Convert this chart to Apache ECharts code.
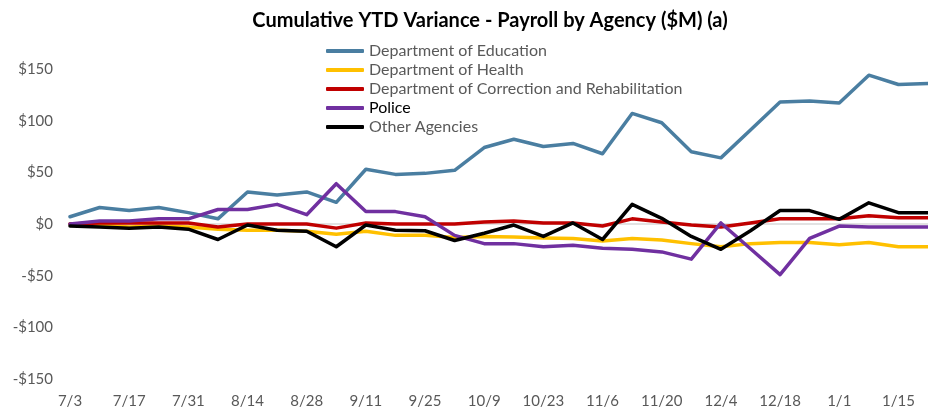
<!DOCTYPE html>
<html>
<head>
<meta charset="utf-8">
<script src="https://cdn.jsdelivr.net/npm/echarts@6/dist/echarts.min.js"></script>
<style>
html,body{margin:0;padding:0;background:#fff;}
#chart{width:928px;height:409px;}
</style>
</head>
<body>
<div id="chart"></div>
<script>
const weeks = ['7/3','7/10','7/17','7/24','7/31','8/7','8/14','8/21','8/28','9/4','9/11','9/18','9/25','10/2','10/9','10/16','10/23','10/30','11/6','11/13','11/20','11/27','12/4','12/11','12/18','12/25','1/1','1/8','1/15','1/22'];
const education = [7,16,13,16,11,5,31,28,31,21,53,48,49,52,74,82,75,78,68,107,98,70,64,91,118,119,117,144,135,136];
const health = [0,-1,-3,-2,-3,-5,-6,-6,-7,-10,-7,-11,-11,-13,-12,-12.5,-13.5,-14,-16.5,-14,-15.5,-19,-22,-19,-18,-18,-20,-18,-22,-22];
const correction = [0,1,1,1,1,-3,0,0,0,-4,1,0,0,0,2,3,1,1,-2,5,2,-1,-3,1,5,5,5,8,6,6];
const police = [0,3,3,5,5,14,14,19,9,39,12,12,7,-11,-19,-19,-22,-20.5,-23.5,-24.5,-27,-34,1,-24,-49,-14,-2,-3,-3,-3];
const other = [-2,-3,-4,-3,-5,-15,-1,-6,-7,-22,-1,-6,-6.5,-16,-9,-1,-12,1,-15,19,5.5,-12,-24.5,-6.5,13,13,4.5,20.5,11,11];
const yTicks = [-150,-100,-50,0,50,100,150];

const names = ['Department of Education','Department of Health','Department of Correction and Rehabilitation','Police','Other Agencies'];
const colors = ['#4A7EA1','#FFC000','#C00000','#7030A0','#000000'];
const dataSets = [education, health, correction, police, other];
const FONT = 'Lato';

const chart = echarts.init(document.getElementById('chart'));
chart.setOption({
  animation: false,
  title: {
    text: 'Cumulative YTD Variance - Payroll by Agency ($M) (a)',
    left: 485, textAlign: 'center', top: 6,
    textStyle: {fontFamily: FONT, fontSize: 20, fontWeight: 'bold', color: '#000'}
  },
  legend: {
    orient: 'vertical', left: 321, top: 38, itemWidth: 38, itemHeight: 4, itemGap: 3,
    icon: 'roundRect',
    textStyle: {fontFamily: FONT, fontSize: 16, color: '#595959', lineHeight: 16},
    data: names.map((n, i) => i === 3 ? {name: n, textStyle: {color: '#000'}} : {name: n})
  },
  grid: {left: 70, right: -10, top: 69, bottom: 29, containLabel: false},
  xAxis: {
    type: 'category', data: weeks, boundaryGap: false,
    axisLine: {show: false}, axisTick: {show: false},
    axisLabel: {interval: 1, margin: 15, fontFamily: FONT, fontSize: 15, color: '#595959'},
    splitLine: {show: false}
  },
  yAxis: {
    type: 'value', min: yTicks[0], max: yTicks[yTicks.length - 1], interval: 50,
    axisLine: {show: false}, axisTick: {show: false},
    axisLabel: {margin: 17, fontFamily: FONT, fontSize: 15, color: '#595959',
      formatter: v => (v < 0 ? '-$' : '$') + Math.abs(v)},
    splitLine: {show: true, lineStyle: {width: 1.5, color: yTicks.map(v => v === 0 ? '#d9d9d9' : 'rgba(0,0,0,0)')}}
  },
  series: names.map((n, i) => ({
    name: n, type: 'line', data: dataSets[i], symbol: 'none', clip: false,
    lineStyle: {width: 3.5, color: colors[i], cap: 'round', join: 'round'},
    itemStyle: {color: colors[i]}
  }))
});
</script>
</body>
</html>
